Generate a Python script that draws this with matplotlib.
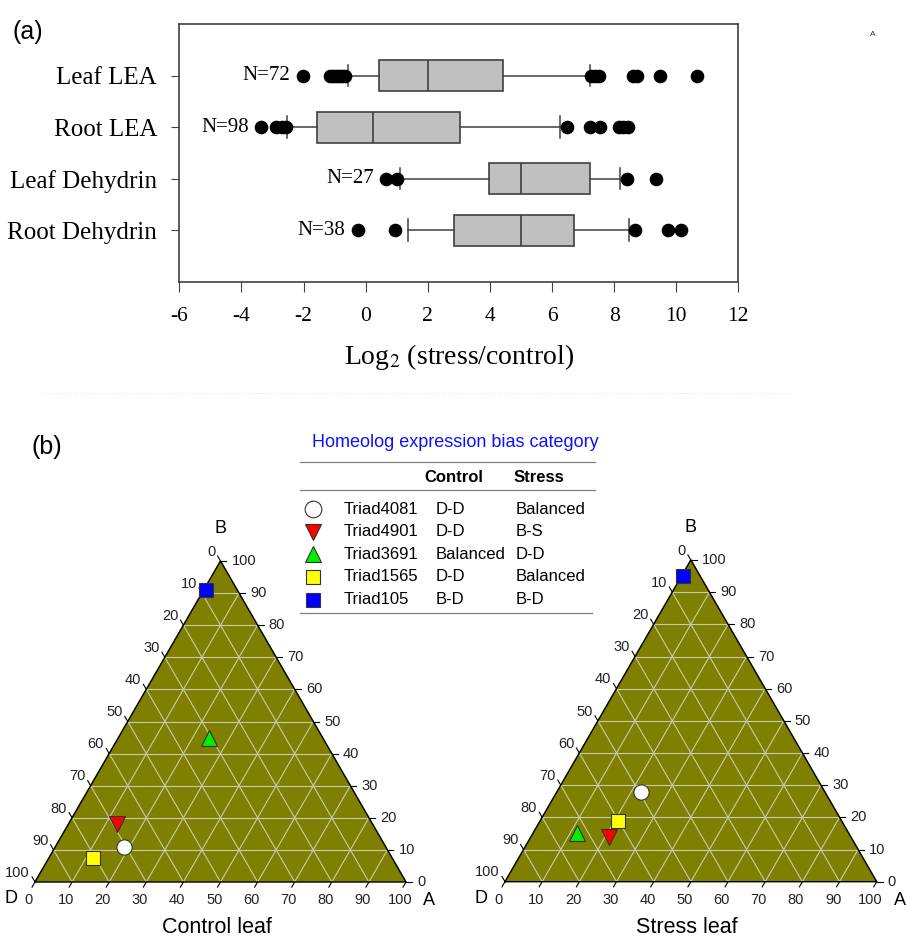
import numpy as np
import matplotlib
matplotlib.use("Agg")
import matplotlib.pyplot as plt

# ---- (a) boxplot data, log2(stress/control) ----
genes = ["Leaf LEA", "Root LEA", "Leaf Dehydrin", "Root Dehydrin"]
counts = [72, 98, 27, 38]
q1 = [0.42, -1.57, 3.97, 2.84]
medians = [2.0, 0.24, 5.01, 4.99]
q3 = [4.42, 3.05, 7.22, 6.71]
whisker_low = [-0.58, -2.54, 1.1, 1.35]
whisker_high = [7.23, 6.25, 8.2, 8.48]
fliers = [
    [-2.02, -1.16, -1.05, -0.95, -0.85, -0.75, -0.66, 7.25, 7.38, 7.5, 8.6, 8.75, 9.47, 10.67],
    [-3.36, -2.88, -2.7, -2.58, 6.5, 7.22, 7.54, 8.15, 8.3, 8.45],
    [0.66, 1.01, 8.4, 9.35],
    [-0.25, 0.93, 8.68, 9.75, 10.17],
]

# ---- (b) ternary data, percent of A and B (D = 100 - A - B) ----
triads = ["Triad4081", "Triad4901", "Triad3691", "Triad1565", "Triad105"]
control_cat = ["D-D", "D-D", "Balanced", "D-D", "B-D"]
stress_cat = ["Balanced", "B-S", "D-D", "Balanced", "B-D"]
control_A = [18.5, 13, 24.5, 12, 0.5]
control_B = [11, 18, 45, 7.5, 91]
stress_A = [22.5, 21, 12, 21, 0.5]
stress_B = [28, 14, 15, 19, 95]
markers = ["o", "v", "^", "s", "s"]
colors = ["white", "#ff0000", "#00ee00", "#ffff00", "#0000ff"]
sizes = [11, 11, 11, 9.5, 9.5]

W, H = 906, 938
fig = plt.figure(figsize=(W / 100, H / 100), dpi=100)


def px_rect(left, top, right, bottom):
    return [left / W, 1 - bottom / H, (right - left) / W, (bottom - top) / H]


# ================= panel (a) =================
ax = fig.add_axes(px_rect(179.3, 24, 738.3, 281.7))
stats = []
for i in range(len(genes)):
    stats.append(dict(med=medians[i], q1=q1[i], q3=q3[i],
                      whislo=whisker_low[i], whishi=whisker_high[i],
                      fliers=fliers[i], label=genes[i]))
positions = np.arange(1, len(genes) + 1)
ax.bxp(stats, positions=positions, vert=False, widths=0.6, patch_artist=True,
       capwidths=0.42,
       boxprops=dict(facecolor="#c0c0c0", edgecolor="#404040", linewidth=1.2),
       medianprops=dict(color="#404040", linewidth=1.2),
       whiskerprops=dict(color="#404040", linewidth=1.1),
       capprops=dict(color="#404040", linewidth=1.1),
       flierprops=dict(marker="o", markerfacecolor="black", markeredgecolor="black",
                       markersize=8.8, linestyle="none"))
ax.set_xlim(-6, 12)
ax.set_ylim(5, 0)
ax.set_xticks(np.arange(-6, 13, 2))
ax.set_xticklabels([str(v) for v in np.arange(-6, 13, 2)])
ax.set_yticks(positions)
ax.set_yticklabels(genes)
serif = "Liberation Serif"
for lab in ax.get_yticklabels():
    lab.set_fontfamily(serif)
    lab.set_fontsize(18)
for lab in ax.get_xticklabels():
    lab.set_fontfamily(serif)
    lab.set_fontsize(15.5)
ax.tick_params(axis="y", direction="out", length=6, pad=10, color="#404040")
ax.tick_params(axis="x", direction="out", length=7, pad=11, color="#404040")
for s in ax.spines.values():
    s.set_color("#404040")
    s.set_linewidth(1.2)
ax.set_xlabel("Log$_2$ (stress/control)", fontfamily=serif, fontsize=20, labelpad=12)
ax.xaxis.label.set_math_fontfamily("stix")

for i in range(len(genes)):
    lowest = min([whisker_low[i]] + fliers[i])
    ax.annotate("N=%d" % counts[i], (lowest, positions[i]), xytext=(-9, 0),
                textcoords="offset points", ha="right", va="center",
                fontfamily=serif, fontsize=15)

# ================= overlay for labels / legend =================
lax = fig.add_axes([0, 0, 1, 1], zorder=5)
lax.set_xlim(0, W)
lax.set_ylim(H, 0)
lax.axis("off")

lax.text(28, 32, "(a)", fontsize=18, ha="center", va="center", fontfamily="Liberation Sans")
lax.text(47, 447, "(b)", fontsize=18, ha="center", va="center", fontfamily="Liberation Sans")
lax.text(873, 35, "A", fontsize=6, ha="center", va="center", color="#333333",
         fontfamily="Liberation Sans")
lax.plot([44, 790], [393, 393], color="#e4e4e4", lw=0.8, ls=":")

# legend table
sans = "Liberation Sans"
lax.text(455, 442.7, "Homeolog expression bias category", color="#1010ff",
         fontsize=13, ha="center", va="center", fontfamily=sans)
lax.plot([300, 595], [461.7, 461.7], color="#808080", lw=0.9)
lax.text(424.3, 477.3, "Control", fontsize=12, fontweight="bold", ha="left", va="center",
         fontfamily=sans)
lax.text(514, 477.3, "Stress", fontsize=12, fontweight="bold", ha="left", va="center",
         fontfamily=sans)
lax.plot([300, 595], [490, 490], color="#808080", lw=0.9)
row_y = [509.3, 531.7, 554.3, 576.7, 600]
for i, y in enumerate(row_y):
    lax.plot([312.7], [y], marker=markers[i], markersize=sizes[i] + 1,
             markerfacecolor=colors[i], markeredgecolor="#333333", markeredgewidth=0.8,
             linestyle="none")
    lax.text(343.3, y, triads[i], fontsize=12, ha="left", va="center", fontfamily=sans)
    lax.text(435.7, y, control_cat[i], fontsize=12, ha="left", va="center", fontfamily=sans)
    lax.text(516, y, stress_cat[i], fontsize=12, ha="left", va="center", fontfamily=sans)
lax.plot([300, 592], [613.3, 613.3], color="#808080", lw=0.9)

# ================= panel (b) ternary =================
h = np.sqrt(3) / 2


def to_xy(a, b):
    a = np.asarray(a, dtype=float) / 100
    b = np.asarray(b, dtype=float) / 100
    return a + b / 2, b * h


def ternary(rect, A, B, title):
    tax = fig.add_axes(rect)
    tax.set_xlim(0, 1)
    tax.set_ylim(0, h)
    tax.axis("off")
    tax.fill([0, 1, 0.5], [0, 0, h], color="#808000", zorder=0)
    L = 0.016
    for k in range(1, 10):
        t = k / 10
        kw = dict(color="#c9c9b8", lw=0.8, zorder=1)
        tax.plot([t / 2, 1 - t / 2], [t * h, t * h], **kw)
        tax.plot([t, t + (1 - t) / 2], [0, (1 - t) * h], **kw)
        tax.plot([1 - t, (1 - t) / 2], [0, (1 - t) * h], **kw)
    tax.plot([0, 1, 0.5, 0], [0, 0, h, 0], color="black", lw=1.0, zorder=2,
             clip_on=False)
    for k in range(0, 11):
        t = k / 10
        val = str(k * 10)
        tk = dict(color="black", lw=0.8, clip_on=False)
        # bottom axis (A)
        tax.plot([t, t - 0.5 * L], [0, -h * L], **tk)
        tax.text(t - 0.017, -0.049, val, ha="center", va="center", fontsize=10.5,
                 color="#222222", fontfamily=sans)
        # right axis (B)
        x, y = 1 - t / 2, t * h
        tax.plot([x, x + L], [y, y], **tk)
        tax.text(x + 0.03, y, val, ha="left", va="center", fontsize=10.5,
                 color="#222222", fontfamily=sans)
        # left axis (D)
        x, y = (1 - t) / 2, (1 - t) * h
        tax.plot([x, x - 0.5 * L], [y, y + h * L], **tk)
        tax.text(x - 0.014, y + 0.025, val, ha="right", va="center", fontsize=10.5,
                 color="#222222", fontfamily=sans)
    tax.text(0.5, h + 0.087, "B", ha="center", va="center", fontsize=13, fontfamily=sans)
    tax.text(-0.064, -0.045, "D", ha="center", va="center", fontsize=13, fontfamily=sans)
    tax.text(1.062, -0.05, "A", ha="center", va="center", fontsize=13, fontfamily=sans)
    tax.text(0.49, -0.122, title, ha="center", va="center", fontsize=15.5, fontfamily=sans)
    xs, ys = to_xy(A, B)
    for i in range(len(xs)):
        tax.plot(xs[i], ys[i], marker=markers[i], markersize=sizes[i],
                 markerfacecolor=colors[i], markeredgecolor="#333333",
                 markeredgewidth=0.8, linestyle="none", zorder=3, clip_on=False)
    return tax


ternary(px_rect(35, 561, 406, 882), control_A, control_B, "Control leaf")
ternary(px_rect(505, 560, 876.7, 881.7), stress_A, stress_B, "Stress leaf")

fig.savefig("out.png", dpi=100)
